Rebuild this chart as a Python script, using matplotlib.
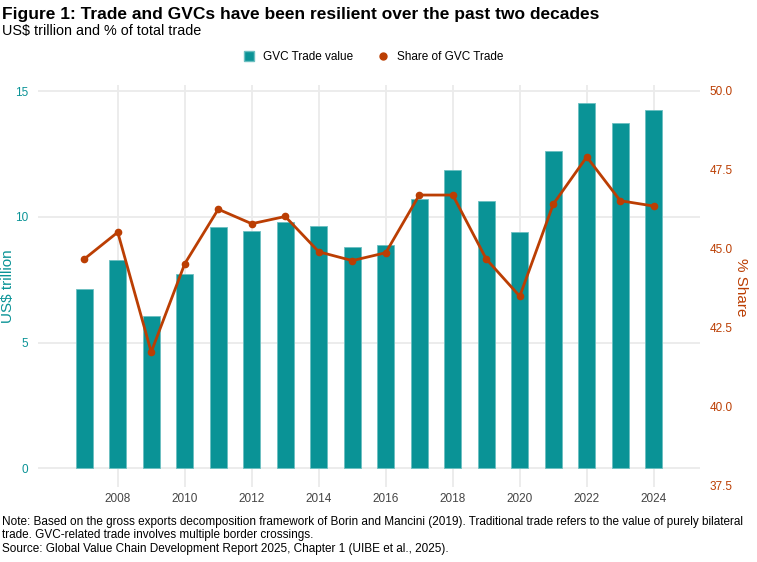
import matplotlib.pyplot as plt
from matplotlib.lines import Line2D

plt.rcParams['font.family'] = ['Liberation Sans', 'DejaVu Sans']

years = list(range(2007, 2025))
gvc_value = [7.15, 8.28, 6.04, 7.72, 9.60, 9.44, 9.79, 9.63, 8.79, 8.87,
             10.70, 11.88, 10.61, 9.39, 12.61, 14.51, 13.73, 14.26]
gvc_share = [44.67, 45.52, 41.72, 44.52, 46.25, 45.79, 46.02, 44.90, 44.62, 44.87,
             46.70, 46.70, 44.67, 43.49, 46.41, 47.91, 46.52, 46.35]

left_ticks = [0, 5, 10, 15]
right_ticks = [37.5, 40.0, 42.5, 45.0, 47.5, 50.0]
x_ticks = list(range(2008, 2025, 2))

teal = '#0a9396'
orange = '#bb3e03'
grid_col = '#ebebeb'
tick_col = '#444444'

fig = plt.figure(figsize=(7.57, 5.62), dpi=100)
ax = fig.add_axes([38 / 757, 1 - 487 / 562, (700 - 38) / 757, (487 - 85) / 562])
ax2 = ax.twinx()

ax.bar(years, gvc_value, width=0.5, color=teal, edgecolor='#6cbfc1', linewidth=0.6, zorder=3)
ax2.plot(years, gvc_share, color=orange, linewidth=2.0, marker='o', markersize=4.5, zorder=4)

ax.set_xlim(2005.62, 2025.38)
ax.set_ylim(-0.74, 15.24)
ax2.set_ylim(37.44, 50.19)

ax.set_xticks(x_ticks)
ax.set_yticks(left_ticks)
ax2.set_yticks(right_ticks)
ax2.set_yticklabels([f'{v:.1f}' for v in right_ticks])

ax.grid(True, color=grid_col, linewidth=1.3, zorder=0)
ax.set_axisbelow(True)
ax2.grid(False)

for a in (ax, ax2):
    for s in a.spines.values():
        s.set_visible(False)
    a.tick_params(length=0)

ax.tick_params(axis='x', colors=tick_col, labelsize=8.5, pad=4)
ax.tick_params(axis='y', colors=teal, labelsize=8.5, pad=7)
ax2.tick_params(axis='y', colors=orange, labelsize=8.5, pad=7)

# axis titles placed by hand, like the reference
fig.text(8 / 757, 1 - 286 / 562, 'US$ trillion', color=teal, fontsize=11,
         rotation=90, ha='center', va='center')
fig.text(741 / 757, 1 - 287 / 562, '% Share', color=orange, fontsize=11,
         rotation=270, ha='center', va='center')

fig.text(0.003, 0.988, 'Figure 1: Trade and GVCs have been resilient over the past two decades',
         fontsize=12.5, fontweight='bold', va='top')
fig.text(0.003, 0.958, 'US$ trillion and % of total trade', fontsize=10.4, va='top')

handles = [Line2D([], [], linestyle='none', marker='s', markersize=7, color=teal,
                  markeredgecolor='#6cbfc1'),
           Line2D([], [], linestyle='none', marker='o', markersize=5, color=orange)]
fig.legend(handles, ['GVC Trade value', 'Share of GVC Trade'], loc='center',
           bbox_to_anchor=(0.492, 0.898), ncol=2, frameon=False, fontsize=8.5,
           handletextpad=0.6, columnspacing=1.9, handlelength=1.2)

notes = ('Note: Based on the gross exports decomposition framework of Borin and Mancini (2019). '
         'Traditional trade refers to the value of purely bilateral\n'
         'trade. GVC-related trade involves multiple border crossings.\n'
         'Source: Global Value Chain Development Report 2025, Chapter 1 (UIBE et al., 2025).')
fig.text(0.003, 1 - 516 / 562, notes, fontsize=8.5, va='top', linespacing=1.15)

fig.savefig('out.png', dpi=100)
